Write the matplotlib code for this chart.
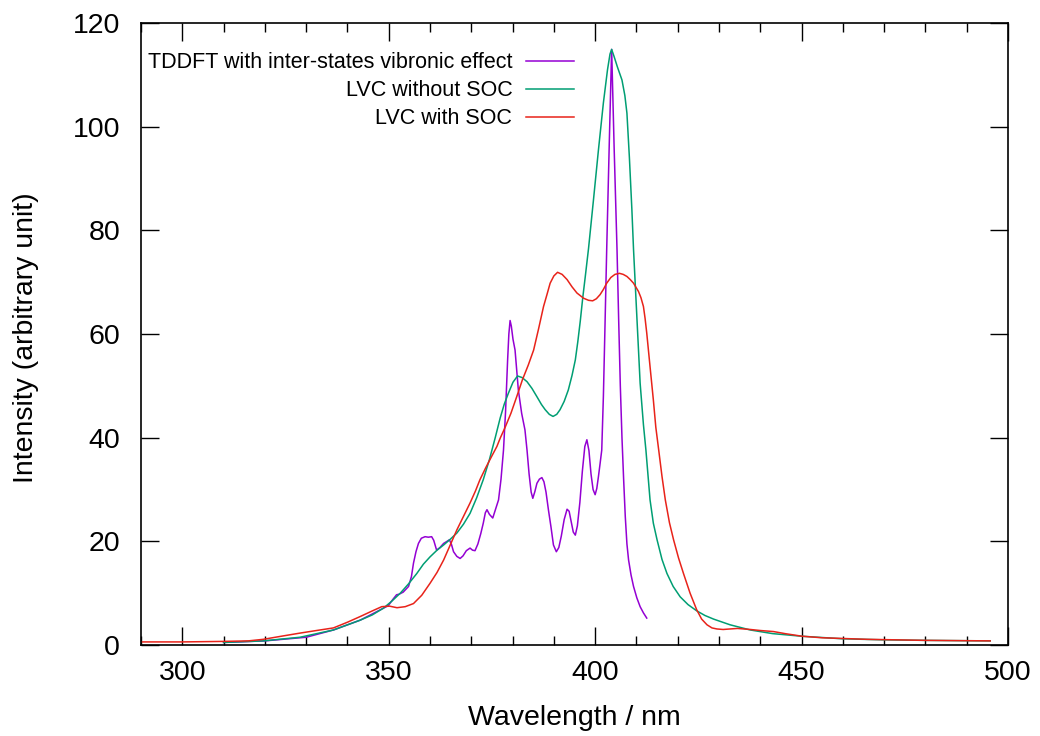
import matplotlib
matplotlib.use('Agg')
from matplotlib import pyplot as plt

plt.rcParams['font.family'] = ['Liberation Sans', 'DejaVu Sans']

# TDDFT with inter-states vibronic effect
wl_tddft = [310, 320, 330, 336.6, 343.1, 348.7, 349.9, 351, 351.9, 352.5, 353.5, 354.8,
            355.5, 356, 356.6, 357.2, 357.9, 358.8, 359.6, 360.4, 360.9, 361.6, 362.4,
            363.3, 364.7, 365.2, 365.7, 366.5, 367.3, 368, 368.8, 369.7, 370.3, 370.9,
            371.6, 372.3, 372.9, 373.4, 373.8, 374.4, 375.2, 375.8, 376.6, 377.2, 377.8,
            378.3, 378.8, 379.1, 379.4, 379.7, 380.1, 380.6, 381.4, 382.2, 383, 383.5,
            384, 384.5, 384.9, 385.4, 385.9, 386.5, 387.1, 387.6, 388.1, 388.7, 389.3,
            389.9, 390.6, 391.2, 391.8, 392.5, 393.2, 393.7, 394.2, 394.7, 395.2, 395.7,
            396.3, 396.9, 397.5, 398, 398.5, 399, 399.5, 400, 400.4, 400.8, 401.2, 401.6,
            402, 402.4, 402.8, 403.4, 404, 404.6, 405.3, 405.7, 406.1, 406.5, 406.9,
            407.3, 407.7, 408.1, 408.7, 409.3, 410.1, 410.9, 411.7, 412.5]
int_tddft = [0.5, 0.8, 1.5, 2.9, 4.8, 7.1, 7.6, 8.8, 9.7, 9.8, 10.2, 11.3,
             13.2, 15.8, 18.0, 19.6, 20.6, 20.9, 20.8, 20.9, 20.2, 18.3, 18.8,
             19.6, 20.3, 19.4, 18.0, 17.1, 16.7, 17.2, 18.2, 18.7, 18.3, 18.2,
             19.5, 21.5, 23.5, 25.5, 26.1, 25.2, 24.5, 26.0, 28.0, 32.0, 37.6,
             45.0, 55.0, 60.0, 62.6, 61.5, 59.0, 56.9, 49.2, 44.7, 41.5, 37.6,
             33.0, 29.5, 28.3, 29.6, 31.2, 32.0, 32.3, 31.5, 29.5, 26.0, 22.8,
             19.3, 18.0, 18.8, 21.0, 24.2, 26.2, 25.8, 23.8, 21.8, 21.2, 23.0,
             27.5, 33.5, 38.3, 39.6, 37.5, 33.0, 30.0, 29.0, 30.2, 32.5, 35.0, 37.6,
             48.0, 62.0, 76.3, 96.0, 114.9, 96.0, 76.3, 62.7, 50.0, 40.0, 32.0,
             24.8, 19.5, 16.4, 13.5, 11.3, 9.1, 7.4, 6.2, 5.2]

# LVC without SOC
wl_nosoc = [310, 319.6, 328.5, 336.6, 343.1, 346, 348.7, 350.8, 352.8, 354.8, 356.8,
            358.4, 360, 361.7, 363.3, 364.9, 366.5, 368.1, 369.7, 371.3, 372.9, 374.4,
            375.8, 377, 378, 379, 380.1, 381.2, 382.3, 383.5, 384.7, 385.9, 387, 387.9,
            388.9, 389.8, 390.7, 391.5, 392.5, 393.5, 394.4, 395.2, 395.8, 396.4, 397,
            397.6, 398.4, 399.6, 400.8, 402, 403, 403.6, 404, 404.6, 405.4, 406.5, 407.2,
            407.7, 408.3, 408.9, 409.3, 410.1, 410.9, 411.7, 412.3, 413.3, 414.1, 415,
            416.2, 417.4, 418.9, 420.6, 422.5, 424.6, 426.6, 428.7, 432.7, 437.6, 443,
            450, 460, 470, 480, 495.7]
int_nosoc = [0.5, 0.8, 1.5, 2.9, 4.8, 5.8, 7.1, 8.5, 10.0, 11.8, 13.8,
             15.6, 17.0, 18.3, 19.3, 20.4, 21.6, 23.3, 25.4, 28.4, 31.9, 35.8,
             40.0, 43.8, 46.5, 48.6, 50.7, 51.9, 51.6, 50.8, 49.5, 47.9, 46.4, 45.4,
             44.5, 44.1, 44.5, 45.4, 47.0, 49.2, 52.0, 55.0, 58.5, 62.5, 67.0,
             71.0, 76.5, 85.9, 95.5, 104.6, 111.0, 114.0, 114.9, 113.5, 111.5, 109.0, 106.0,
             102.6, 94.0, 84.0, 76.3, 63.4, 50.5, 42.5, 37.6, 28.0, 23.5, 20.3,
             16.5, 13.8, 11.3, 9.3, 7.8, 6.6, 5.7, 5.0, 3.9, 2.9, 2.2,
             1.7, 1.2, 1.0, 0.9, 0.8]

# LVC with SOC
wl_soc = [290, 300, 310, 316, 319.6, 324, 328.5, 332.5, 336.6, 340, 343.1, 345.8, 348.3,
          350.2, 352, 354, 356, 358, 360, 361.7, 363.3, 364.9, 366.5, 368.1, 369.7, 371,
          372.1, 373.5, 375, 376.2, 377, 378.2, 379.6, 381, 382.4, 383.8, 385.1, 386.3,
          387.5, 388.4, 389.1, 390, 390.9, 392, 393.2, 394.4, 395.6, 397.2, 398.4, 399.4,
          400.3, 401.2, 402, 402.8, 403.8, 404.8, 405.9, 406.8, 407.7, 408.5, 409.3,
          410.5, 411.1, 411.7, 412.1, 412.5, 413.3, 414.1, 414.7, 415.4, 416.2, 417, 418,
          419, 420.2, 421.4, 423, 424.6, 425.8, 427.1, 428.3, 429.5, 431, 432.7, 434.5,
          436, 437.6, 440, 443.2, 446, 450.1, 455, 465.9, 480, 495.7]
int_soc = [0.6, 0.6, 0.7, 0.8, 1.1, 1.7, 2.3, 2.8, 3.3, 4.4, 5.5, 6.5, 7.4,
           7.5, 7.2, 7.4, 8.0, 9.6, 11.9, 14.0, 16.4, 19.3, 22.2, 24.8, 27.4, 29.7,
           31.9, 34.2, 36.5, 38.3, 39.9, 42.0, 44.7, 47.9, 51.2, 54.0, 56.9, 61.0,
           65.3, 67.8, 69.8, 71.2, 71.9, 71.5, 70.5, 69.1, 67.9, 66.9, 66.5, 66.4,
           66.8, 67.6, 68.6, 69.8, 70.9, 71.5, 71.7, 71.5, 71.1, 70.5, 69.8,
           68.2, 67.0, 65.3, 63.0, 60.2, 53.7, 47.3, 42.0, 37.6, 32.5, 28.0, 23.6,
           20.3, 16.8, 13.8, 10.0, 6.8, 5.0, 3.9, 3.3, 3.1, 3.0, 3.1, 3.2,
           3.1, 3.0, 2.8, 2.6, 2.2, 1.7, 1.4, 1.1, 0.9, 0.8]

labels = ['TDDFT with inter-states vibronic effect', 'LVC without SOC', 'LVC with SOC']
colors = ['#9400d3', '#009e73', '#e8231a']

fig = plt.figure(figsize=(10.4, 7.36), dpi=100)
ax = fig.add_axes([0.1356, 0.1236, 0.8336, 0.8452])

ax.plot(wl_tddft, int_tddft, color=colors[0], lw=1.1, label=labels[0])
ax.plot(wl_nosoc, int_nosoc, color=colors[1], lw=1.1, label=labels[1])
ax.plot(wl_soc, int_soc, color=colors[2], lw=1.1, label=labels[2])

ax.set_xlim(290, 500)
ax.set_ylim(0, 120)
ax.set_xticks([300, 350, 400, 450, 500])
ax.set_xticks(range(290, 501, 10), minor=True)
ax.set_yticks(range(0, 121, 20))

ax.tick_params(which='both', direction='in', top=True, right=True, width=1, labelsize=20.5)
ax.tick_params(which='major', length=13)
ax.tick_params(which='minor', length=6.5)
ax.tick_params(axis='x', pad=10.5)
ax.tick_params(axis='y', pad=15)
for s in ax.spines.values():
    s.set_linewidth(1.2)

ax.set_xlabel('Wavelength / nm', fontsize=20.5)
ax.set_ylabel('Intensity (arbitrary unit)', fontsize=20.5)
ax.xaxis.set_label_coords(0.5, -0.096)
ax.yaxis.set_label_coords(-0.1176, 0.494)

leg = ax.legend(loc='upper right', bbox_to_anchor=(0.5, 0.953), frameon=False,
                markerfirst=False, fontsize=15.5, handlelength=2.24, handletextpad=0.65,
                labelspacing=0.33, borderpad=0, borderaxespad=0)

plt.savefig('out.png', dpi=100)
